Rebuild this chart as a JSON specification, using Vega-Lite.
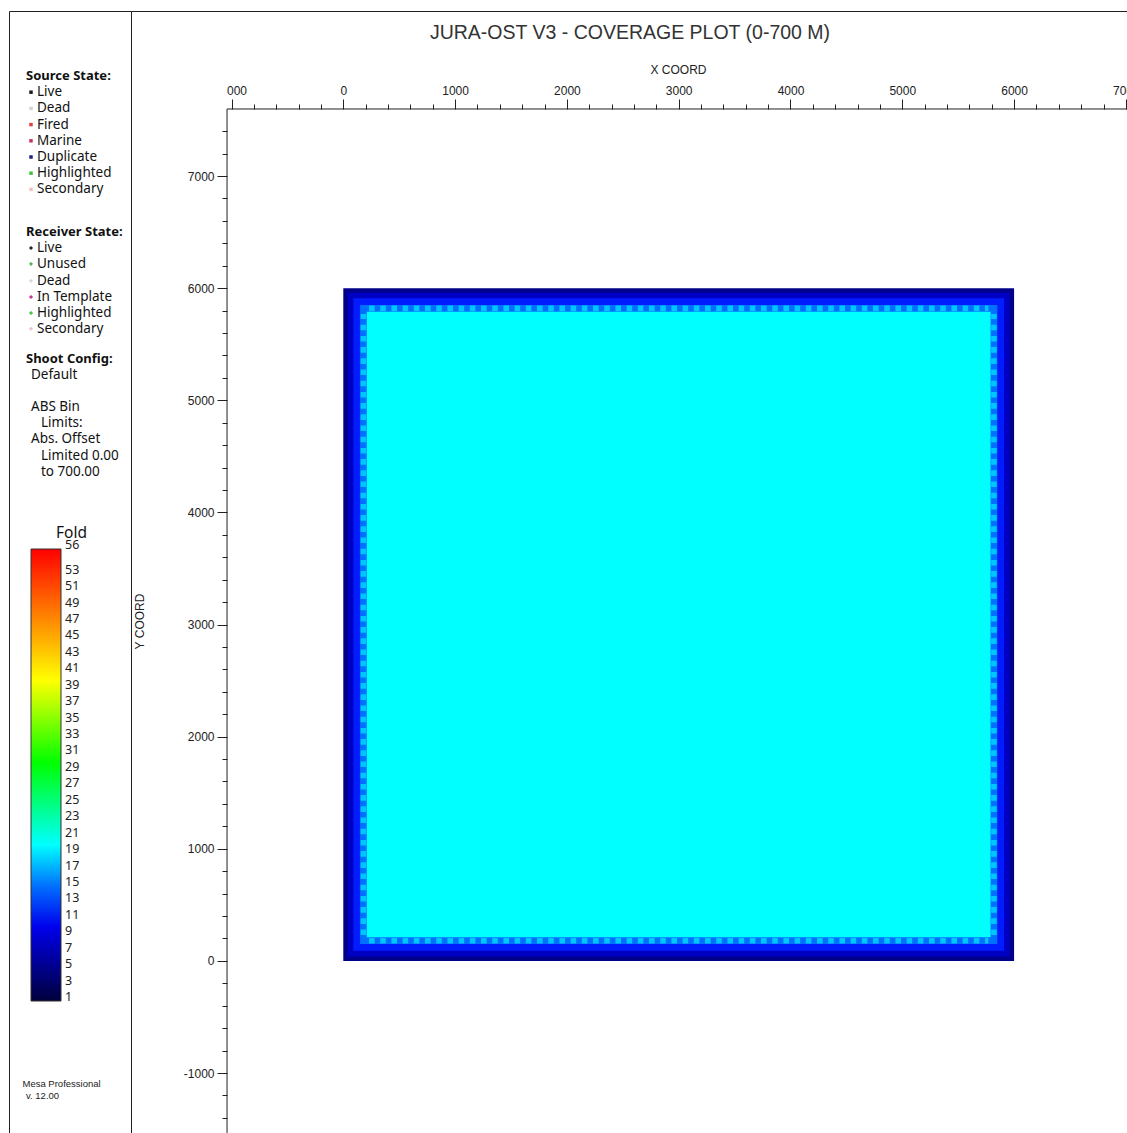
{
  "$schema": "https://vega.github.io/schema/vega-lite/v6.json",
  "background": "white",
  "padding": {"left": 8, "top": 10, "right": 0, "bottom": 0},
  "autosize": {"type": "pad"},
  "spacing": 0,
  "bounds": "flush",
  "config": {
    "view": {"stroke": "#222", "strokeWidth": 1},
    "font": "Liberation Sans",
    "axis": {
      "labelFont": "Liberation Sans", "labelFontSize": 12, "labelColor": "#222",
      "titleFont": "Liberation Sans", "titleFontSize": 12, "titleFontWeight": "normal", "titleColor": "#222",
      "tickColor": "#222", "tickWidth": 1
    }
  },
  "hconcat": [
    {
      "width": 122,
      "height": 1123,
      "data": {"values": [
        {"text": "Source State:", "line": 0, "level": "head"},
        {"text": "Live", "line": 1, "level": "item", "group": "source"},
        {"text": "Dead", "line": 2, "level": "item", "group": "source"},
        {"text": "Fired", "line": 3, "level": "item", "group": "source"},
        {"text": "Marine", "line": 4, "level": "item", "group": "source"},
        {"text": "Duplicate", "line": 5, "level": "item", "group": "source"},
        {"text": "Highlighted", "line": 6, "level": "item", "group": "source"},
        {"text": "Secondary", "line": 7, "level": "item", "group": "source"},
        {"text": "Receiver State:", "line": 9.63, "level": "head"},
        {"text": "Live", "line": 10.62, "level": "item", "group": "receiver"},
        {"text": "Unused", "line": 11.6, "level": "item", "group": "receiver"},
        {"text": "Dead", "line": 12.65, "level": "item", "group": "receiver"},
        {"text": "In Template", "line": 13.64, "level": "item", "group": "receiver"},
        {"text": "Highlighted", "line": 14.63, "level": "item", "group": "receiver"},
        {"text": "Secondary", "line": 15.6, "level": "item", "group": "receiver"},
        {"text": "Shoot Config:", "line": 17.47, "level": "head"},
        {"text": "Default", "line": 18.46, "level": "note"},
        {"text": "ABS Bin", "line": 20.43, "level": "note"},
        {"text": "Limits:", "line": 21.42, "level": "sub"},
        {"text": "Abs. Offset", "line": 22.4, "level": "note"},
        {"text": "Limited 0.00", "line": 23.46, "level": "sub"},
        {"text": "to 700.00", "line": 24.44, "level": "sub"},
        {"text": "Fold", "line": 28.2, "level": "fold"},
        {"text": "Mesa Professional", "line": 62.2, "level": "foot"},
        {"text": "v. 12.00", "line": 62.96, "level": "foot2"}
      ]},
      "encoding": {
        "x": {"datum": 0, "type": "quantitative", "scale": {"domain": [0, 122], "nice": false, "zero": false}, "axis": null},
        "y": {"field": "line", "type": "quantitative", "scale": {"domain": [-4.012, 65.31], "reverse": true, "nice": false, "zero": false}, "axis": null}
      },
      "layer": [
        {
          "transform": [{"filter": "datum.level == 'head'"}],
          "mark": {"type": "text", "align": "left", "baseline": "middle", "dx": 17, "font": "Noto Sans", "fontSize": 13, "fontWeight": "bold", "color": "#111"},
          "encoding": {"text": {"field": "text"}}
        },
        {
          "transform": [{"filter": "datum.level == 'item'"}],
          "mark": {"type": "text", "align": "left", "baseline": "middle", "dx": 28, "font": "Noto Sans", "fontSize": 13.5, "color": "#111"},
          "encoding": {"text": {"field": "text"}}
        },
        {
          "transform": [{"filter": "datum.level == 'note'"}],
          "mark": {"type": "text", "align": "left", "baseline": "middle", "dx": 22, "font": "Noto Sans", "fontSize": 13.5, "color": "#111"},
          "encoding": {"text": {"field": "text"}}
        },
        {
          "transform": [{"filter": "datum.level == 'sub'"}],
          "mark": {"type": "text", "align": "left", "baseline": "middle", "dx": 32, "font": "Noto Sans", "fontSize": 13.5, "color": "#111"},
          "encoding": {"text": {"field": "text"}}
        },
        {
          "transform": [{"filter": "datum.level == 'fold'"}],
          "mark": {"type": "text", "align": "left", "baseline": "middle", "dx": 47, "font": "Noto Sans", "fontSize": 15.5, "color": "#111"},
          "encoding": {"text": {"field": "text"}}
        },
        {
          "transform": [{"filter": "datum.level == 'foot'"}],
          "mark": {"type": "text", "align": "left", "baseline": "middle", "dx": 13.5, "font": "Liberation Sans", "fontSize": 9.5, "color": "#222"},
          "encoding": {"text": {"field": "text"}}
        },
        {
          "transform": [{"filter": "datum.level == 'foot2'"}],
          "mark": {"type": "text", "align": "left", "baseline": "middle", "dx": 17, "font": "Liberation Sans", "fontSize": 9.5, "color": "#222"},
          "encoding": {"text": {"field": "text"}}
        },
        {
          "transform": [{"filter": "datum.level == 'item'"}],
          "mark": {"type": "point", "filled": true, "size": 12, "xOffset": 22, "opacity": 1},
          "encoding": {
            "shape": {"field": "group", "type": "nominal", "scale": {"domain": ["source", "receiver"], "range": ["square", "cross"]}, "legend": null},
            "fill": {"field": "text", "type": "nominal", "scale": {
              "domain": ["Live", "Dead", "Fired", "Marine", "Duplicate", "Highlighted", "Secondary", "Unused", "In Template"],
              "range": ["#1a1a1a", "#d4d4d4", "#e04040", "#c83060", "#20207a", "#40c040", "#f2c0c0", "#40b040", "#c02890"]
            }, "legend": null}
          }
        }
      ]
    },
    {
      "width": 997,
      "height": 1123,
      "resolve": {"axis": {"x": "independent"}},
      "layer": [
        {
          "data": {"values": [
            {"x": 0, "x2": 6000, "y": 0, "y2": 6000, "fold": 5},
            {"x": 40, "x2": 5960, "y": 40, "y2": 5960, "fold": 8},
            {"x": 90, "x2": 5910, "y": 90, "y2": 5910, "fold": 12},
            {"x": 150, "x2": 5850, "y": 150, "y2": 5850, "fold": 15},
            {"x": 210, "x2": 5790, "y": 210, "y2": 5790, "fold": 20}
          ]},
          "mark": {"type": "rect"},
          "encoding": {
            "x": {"field": "x", "type": "quantitative", "scale": {"domain": [-1899, 7019], "nice": false, "zero": false},
              "axis": {
                "orient": "top", "offset": -98, "domain": false, "grid": false, "tickCount": 200,
                "values": [-1000, -800, -600, -400, -200, 0, 200, 400, 600, 800, 1000, 1200, 1400, 1600, 1800, 2000, 2200, 2400, 2600, 2800, 3000, 3200, 3400, 3600, 3800, 4000, 4200, 4400, 4600, 4800, 5000, 5200, 5400, 5600, 5800, 6000, 6200, 6400, 6600, 6800, 7000],
                "tickSize": {"condition": {"test": "datum.value % 1000 == 0", "value": 10}, "value": 5},
                "labelExpr": "datum.value % 1000 != 0 ? '' : (datum.value == -1000 ? '000' : '' + datum.value)",
                "labelOffset": {"condition": {"test": "datum.value == -1000", "value": 5}, "value": 0},
                "labelOverlap": false, "labelFlush": false, "labelPadding": 2,
                "title": "X COORD", "titleX": 547, "titleY": -40, "titleBaseline": "middle", "titleAlign": "center"
              }},
            "x2": {"field": "x2"},
            "y": {"field": "y", "type": "quantitative", "scale": {"domain": [-1544, 8472], "nice": false, "zero": false},
              "axis": {
                "orient": "left", "offset": -96, "domain": false, "grid": false, "tickCount": 200,
                "values": [-1400, -1200, -1000, -800, -600, -400, -200, 0, 200, 400, 600, 800, 1000, 1200, 1400, 1600, 1800, 2000, 2200, 2400, 2600, 2800, 3000, 3200, 3400, 3600, 3800, 4000, 4200, 4400, 4600, 4800, 5000, 5200, 5400, 5600, 5800, 6000, 6200, 6400, 6600, 6800, 7000, 7200, 7400],
                "tickSize": {"condition": {"test": "datum.value % 1000 == 0", "value": 10}, "value": 5},
                "labelExpr": "datum.value % 1000 != 0 ? '' : '' + datum.value",
                "labelOverlap": false, "labelFlush": false, "labelPadding": 3,
                "title": "Y COORD", "titleX": -88, "titleY": 610, "titleAngle": 270, "titleBaseline": "middle", "titleAlign": "center"
              }},
            "y2": {"field": "y2"},
            "color": {"field": "fold", "type": "quantitative",
              "scale": {"domain": [1, 11, 20, 30, 40, 56], "range": ["#00003c", "#0000ff", "#00ffff", "#00ff00", "#ffff00", "#ff0000"], "interpolate": "rgb"},
              "legend": {
                "type": "gradient",
                "orient": "none", "legendX": 22, "legendY": 538, "direction": "vertical",
                "gradientLength": 452, "gradientThickness": 30, "title": null,
                "values": [1, 3, 5, 7, 9, 11, 13, 15, 17, 19, 21, 23, 25, 27, 29, 31, 33, 35, 37, 39, 41, 43, 45, 47, 49, 51, 53, 56],
                "labelOverlap": false, "labelFont": "Noto Sans", "labelFontSize": 12.5, "labelColor": "#222", "labelOffset": 4,
                "encode": {"labels": {"update": {"baseline": {"value": "alphabetic"}, "fill": {"value": "#222"}}}},
                "gradientStrokeColor": "#333", "gradientStrokeWidth": 1, "padding": 0
              }}
          }
        },
        {
          "data": {"values": [
            {"x": 230, "x2": 5770, "y": 5820, "y2": 5820, "fold": 18},
            {"x": 230, "x2": 5770, "y": 180, "y2": 180, "fold": 18},
            {"x": 180, "x2": 180, "y": 230, "y2": 5770, "fold": 18},
            {"x": 5820, "x2": 5820, "y": 230, "y2": 5770, "fold": 18}
          ]},
          "mark": {"type": "rule", "strokeWidth": 5.6, "strokeDash": [5.6, 5.6], "strokeCap": "butt"},
          "encoding": {
            "x": {"field": "x", "type": "quantitative", "axis": null},
            "x2": {"field": "x2"},
            "y": {"field": "y", "type": "quantitative"},
            "y2": {"field": "y2"},
            "stroke": {"field": "fold", "type": "quantitative",
              "scale": {"domain": [11, 20], "range": ["#0000ff", "#00ffff"], "interpolate": "rgb"},
              "legend": null}
          }
        },
        {
          "data": {"values": [{}]},
          "mark": {"type": "rule", "color": "#222", "strokeWidth": 1},
          "encoding": {
            "x": {"datum": -1040, "type": "quantitative",
              "axis": {
                "orient": "top", "offset": -98, "domain": false, "ticks": false, "labels": false, "grid": false,
                "title": "JURA-OST V3 - COVERAGE PLOT (0-700 M)", "titleX": 498.5, "titleY": -77,
                "titleBaseline": "middle", "titleAlign": "center", "titleFont": "Liberation Sans",
                "titleFontSize": 19.5, "titleFontWeight": "normal", "titleColor": "#333"
              }},
            "x2": {"datum": 7019},
            "y": {"datum": 7598, "type": "quantitative"}
          }
        },
        {
          "data": {"values": [{}]},
          "mark": {"type": "rule", "color": "#222", "strokeWidth": 1},
          "encoding": {
            "x": {"datum": -1040, "type": "quantitative", "axis": null},
            "y": {"datum": -1544, "type": "quantitative"},
            "y2": {"datum": 7598}
          }
        }
      ]
    }
  ]
}
